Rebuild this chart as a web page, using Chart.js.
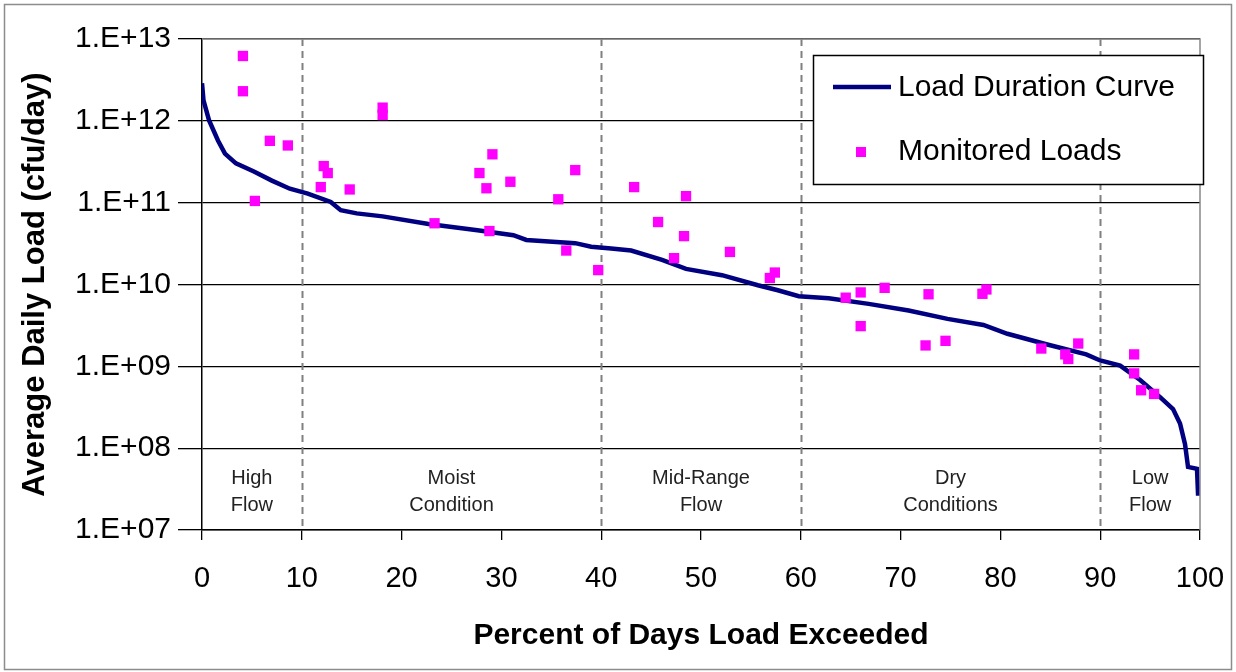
<!DOCTYPE html>
<html>
<head>
<meta charset="utf-8">
<script src="https://cdn.jsdelivr.net/npm/chart.js@4/dist/chart.umd.min.js"></script>
<style>
  html, body { margin: 0; padding: 0; background: #fff; }
  #wrap { width: 1236px; height: 672px; }
</style>
</head>
<body>
<div id="wrap"><canvas id="chart" width="1236" height="672"></canvas></div>
<script>
// load duration curve (percent of days exceeded, cfu/day)
const curveX = [0, 0.15, 0.7, 1.6, 2.3, 3.4, 5.2, 7.0, 8.8, 10.6, 12.9, 13.9, 15.5, 18.1, 22.7, 27.6, 31.2, 32.5, 37.4,
  39.0, 41.0, 43.0, 46.1, 48.5, 52.1, 55.7, 57.7, 59.8, 62.8, 66.8, 70.8, 74.7, 78.3, 80.7, 84.6, 88.6,
  90.0, 92.0, 94.0, 96.0, 97.3, 98.0, 98.5, 98.8, 99.7, 99.8, 100];
const curveLoad = [2.88e12, 1.78e12, 1.02e12, 5.75e11, 3.98e11, 3.02e11, 2.4e11, 1.86e11, 1.48e11, 1.29e11, 1.02e11, 8.1e10, 7.4e10, 6.8e10, 5.5e10, 4.6e10, 4.0e10, 3.5e10, 3.2e10,
  2.9e10, 2.75e10, 2.6e10, 2.0e10, 1.55e10, 1.3e10, 9.8e9, 8.5e9, 7.2e9, 6.8e9, 5.8e9, 4.8e9, 3.8e9, 3.2e9, 2.5e9, 1.86e9, 1.4e9,
  1.18e9, 1.02e9, 6.8e8, 4.2e8, 3.0e8, 2.0e8, 1.12e8, 5.9e7, 5.6e7, 2.8e7, 2.8e7];

// monitored loads
const sampleX = [4.1, 4.1, 5.3, 6.8, 8.6, 12.2, 12.6, 11.9, 14.8, 18.1, 18.1, 23.3, 27.8, 28.5, 29.1, 28.8, 30.9, 35.7, 36.5, 37.4,
  39.7, 43.3, 45.7, 47.3, 48.3, 48.5, 52.9, 56.9, 57.4, 64.5, 66.0, 66.0, 68.4, 72.8, 72.5, 74.5, 78.2, 78.6,
  84.1, 86.5, 86.8, 87.8, 93.4, 93.4, 94.1, 95.4];
const sampleLoad = [6.2e12, 2.3e12, 1.05e11, 5.7e11, 5.0e11, 2.8e11, 2.3e11, 1.55e11, 1.45e11, 1.45e12, 1.18e12, 5.6e10, 2.3e11, 1.5e11, 3.9e11, 4.5e10, 1.8e11, 1.1e11, 2.6e10, 2.5e11,
  1.5e10, 1.55e11, 5.8e10, 2.1e10, 3.9e10, 1.2e11, 2.5e10, 1.2e10, 1.4e10, 6.9e9, 8.0e9, 3.1e9, 9.1e9, 7.6e9, 1.8e9, 2.05e9, 7.7e9, 8.7e9,
  1.65e9, 1.4e9, 1.23e9, 1.9e9, 1.4e9, 8.2e8, 5.1e8, 4.6e8];

const yTicks = [1e7, 1e8, 1e9, 1e10, 1e11, 1e12, 1e13];
const zoneBreaks = [10, 40, 60, 90];
const zoneCenters = [5, 25, 50, 75, 95];
const zoneLabels = [["High", "Flow"], ["Moist", "Condition"], ["Mid-Range", "Flow"], ["Dry", "Conditions"], ["Low", "Flow"]];
const seriesNames = ["Load Duration Curve", "Monitored Loads"];

const NAVY = "#000080";
const MAGENTA = "#ff00ff";

const decor = {
  id: "decor",
  beforeDraw(chart) {
    const ctx = chart.ctx;
    ctx.save();
    ctx.fillStyle = "#fff";
    ctx.fillRect(0, 0, chart.width, chart.height);
    ctx.restore();
  },
  beforeDatasetsDraw(chart) {
    const { ctx, chartArea: ca, scales: { x } } = chart;
    ctx.save();
    ctx.strokeStyle = "#808080";
    ctx.lineWidth = 2;
    ctx.setLineDash([7, 5]);
    zoneBreaks.forEach((v) => {
      const px = Math.round(x.getPixelForValue(v)) + 0.5;
      ctx.beginPath();
      ctx.moveTo(px, ca.top);
      ctx.lineTo(px, ca.bottom);
      ctx.stroke();
    });
    ctx.setLineDash([]);
    ctx.fillStyle = "#222";
    ctx.font = "20px Arial, 'Liberation Sans', sans-serif";
    ctx.textAlign = "center";
    ctx.textBaseline = "middle";
    zoneLabels.forEach((lines, i) => {
      const px = x.getPixelForValue(zoneCenters[i]);
      ctx.fillText(lines[0], px, ca.bottom - 52);
      ctx.fillText(lines[1], px, ca.bottom - 25);
    });
    ctx.restore();
  },
  afterDraw(chart) {
    const { ctx, chartArea: ca } = chart;
    ctx.save();
    // plot frame top / right
    ctx.strokeStyle = "#888";
    ctx.lineWidth = 1.5;
    ctx.beginPath();
    ctx.moveTo(ca.left, ca.top);
    ctx.lineTo(ca.right, ca.top);
    ctx.lineTo(ca.right, ca.bottom);
    ctx.stroke();

    // legend box
    const lx = ca.right - 387, ly = ca.top + 16, lw = 390, lh = 129;
    ctx.fillStyle = "#fff";
    ctx.fillRect(lx, ly, lw, lh);
    ctx.strokeStyle = "#000";
    ctx.lineWidth = 1.5;
    ctx.strokeRect(lx + 0.5, ly + 0.5, lw, lh);

    ctx.strokeStyle = NAVY;
    ctx.lineWidth = 4.5;
    ctx.beginPath();
    ctx.moveTo(lx + 20, ly + 32);
    ctx.lineTo(lx + 78, ly + 32);
    ctx.stroke();
    ctx.fillStyle = MAGENTA;
    ctx.fillRect(lx + 43, ly + 92, 10, 10);

    ctx.fillStyle = "#000";
    ctx.font = "30px Arial, 'Liberation Sans', sans-serif";
    ctx.textAlign = "left";
    ctx.textBaseline = "middle";
    ctx.fillText(seriesNames[0], lx + 85, ly + 33);
    ctx.fillText(seriesNames[1], lx + 85, ly + 97);

    // outer frame
    ctx.strokeStyle = "#8c8c8c";
    ctx.lineWidth = 1.5;
    ctx.strokeRect(4.5, 4.5, chart.width - 9, chart.height - 7);
    ctx.restore();
  }
};

const ctx = document.getElementById("chart").getContext("2d");
new Chart(ctx, {
  data: {
    datasets: [
      {
        type: "scatter",
        label: seriesNames[1],
        data: sampleX.map((v, i) => ({ x: v, y: sampleLoad[i] })),
        pointStyle: "rect",
        pointRadius: 7.3,
        backgroundColor: MAGENTA,
        borderColor: MAGENTA,
        borderWidth: 0,
        order: 0
      },
      {
        type: "line",
        label: seriesNames[0],
        data: curveX.map((v, i) => ({ x: v, y: curveLoad[i] })),
        borderColor: NAVY,
        borderWidth: 4.5,
        pointRadius: 0,
        tension: 0,
        fill: false,
        order: 1
      }
    ]
  },
  options: {
    responsive: false,
    animation: false,
    devicePixelRatio: 1,
    layout: { padding: { top: 39, right: 36, left: 0, bottom: 0 } },
    plugins: {
      legend: { display: false },
      tooltip: { enabled: false }
    },
    scales: {
      x: {
        type: "linear",
        min: 0,
        max: 100,
        afterFit: (s) => { s.height = 142; s.paddingRight = 0; s.paddingLeft = 0; },
        ticks: {
          stepSize: 10,
          padding: 22,
          color: "#000",
          font: { family: "Arial, 'Liberation Sans', sans-serif", size: 29 }
        },
        grid: { drawOnChartArea: false, drawTicks: true, tickLength: 10, color: "#000", lineWidth: 1.3 },
        border: { color: "#000", width: 1.5 },
        title: {
          display: true,
          text: "Percent of Days Load Exceeded",
          color: "#000",
          padding: { top: 0, bottom: 18 },
          font: { family: "Arial, 'Liberation Sans', sans-serif", size: 30, weight: "bold" }
        }
      },
      y: {
        type: "logarithmic",
        min: 1e7,
        max: 1e13,
        afterFit: (s) => { s.width = 202; s.paddingTop = 0; s.paddingBottom = 0; },
        afterBuildTicks: (s) => { s.ticks = yTicks.map((v) => ({ value: v })); },
        ticks: {
          padding: 7,
          color: "#000",
          font: { family: "Arial, 'Liberation Sans', sans-serif", size: 30 },
          callback: (v) => "1.E+" + String(Math.round(Math.log10(v))).padStart(2, "0")
        },
        grid: { color: "#000", lineWidth: 1.3, tickLength: 24 },
        border: { color: "#000", width: 1.5 },
        title: {
          display: true,
          text: "Average Daily Load (cfu/day)",
          color: "#000",
          padding: { top: 17, bottom: 0 },
          font: { family: "Arial, 'Liberation Sans', sans-serif", size: 31, weight: "bold" }
        }
      }
    }
  },
  plugins: [decor]
});
</script>
</body>
</html>
